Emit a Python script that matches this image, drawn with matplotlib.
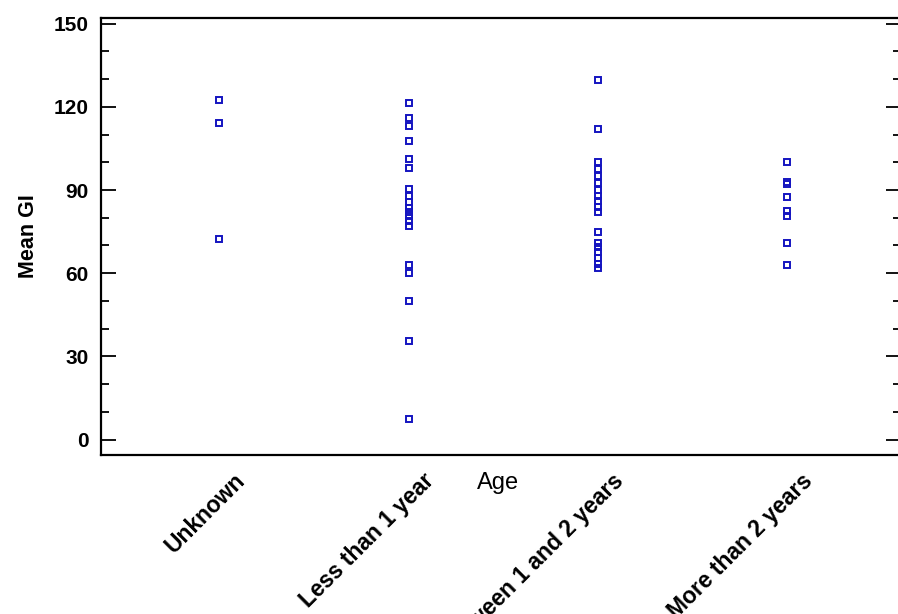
import matplotlib
matplotlib.use('Agg')
import matplotlib.pyplot as plt
import matplotlib.transforms as mtransforms

plt.rcParams['font.family'] = ['Liberation Sans', 'DejaVu Sans']

# Data
categories = ['Unknown', 'Less than 1 year', 'Between 1 and 2 years', 'More than 2 years']

unknown = [122.5, 114.0, 72.5]
less_than_1 = [121.5, 116.0, 113.0, 107.5, 101.0, 98.0, 90.5, 88.0, 85.5, 83.5,
               82.0, 80.5, 79.0, 77.0, 63.0, 60.0, 50.0, 35.5, 7.5]
between_1_2 = [129.5, 112.0, 100.0, 97.5, 95.0, 92.5, 90.0, 88.0, 86.0, 84.0,
               82.0, 75.0, 71.0, 69.5, 67.5, 65.5, 63.5, 62.0]
more_than_2 = [100.0, 93.0, 92.0, 87.5, 82.5, 80.5, 71.0, 63.0]

groups = [unknown, less_than_1, between_1_2, more_than_2]

y_ticks = [0, 30, 60, 90, 120, 150]

fig = plt.figure(figsize=(8.98, 6.14), dpi=100)
ax = fig.add_axes([0.1125, 0.259, 0.8905, 0.7117])

for i, vals in enumerate(groups):
    ax.plot([i] * len(vals), vals, linestyle='none', marker='s', markersize=5,
            markerfacecolor='none', markeredgecolor='#1414c0', markeredgewidth=1.4)

ax.set_xlim(-0.625, 3.6)
ax.set_ylim(-5.5, 152)

ax.set_yticks(y_ticks)
ax.set_yticks(range(0, 151, 10), minor=True)
ax.tick_params(axis='y', which='major', direction='in', length=11, width=1.3,
               right=True, labelsize=15, pad=9)
ax.tick_params(axis='y', which='minor', direction='in', length=6, width=1.3,
               right=True)
for lab in ax.get_yticklabels():
    lab.set_fontweight('bold')

ax.set_xticks(range(len(categories)))
ax.set_xticklabels(categories, rotation=45, ha='right', va='center',
                   rotation_mode='anchor', fontsize=16.5, fontweight='bold')
ax.tick_params(axis='x', length=0, pad=16)
# rotated labels sit a little right of their category in the original
offset = mtransforms.ScaledTranslation(0.22, 0, fig.dpi_scale_trans)
for lab in ax.get_xticklabels():
    lab.set_transform(lab.get_transform() + offset)

for sp in ax.spines.values():
    sp.set_linewidth(1.6)

ax.set_ylabel('Mean GI', fontsize=15.5, fontweight='bold')
ax.yaxis.set_label_coords(-0.078, 0.5)
ax.set_xlabel('Age', fontsize=17)
ax.xaxis.set_label_coords(0.496, -0.040)

fig.savefig('out.png', dpi=100)
